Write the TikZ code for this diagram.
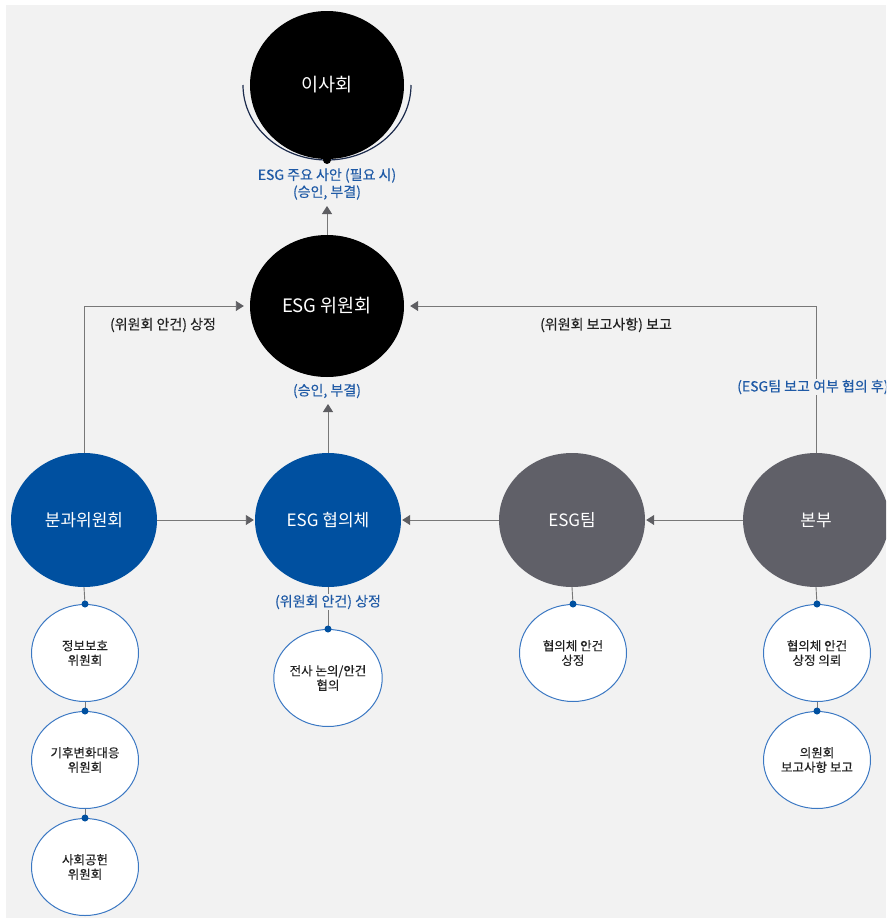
\documentclass[tikz,border=0pt]{standalone}
\usepackage{fontspec}
\setmainfont{Noto Sans CJK KR}
\newfontfamily\krm[FakeBold=0.3]{Noto Sans CJK KR}
\usetikzlibrary{shapes.geometric,arrows.meta}
\definecolor{bg}{HTML}{F2F2F2}
\definecolor{nblue}{HTML}{0050A0}
\definecolor{ngray}{HTML}{606068}
\definecolor{tblue}{HTML}{1F5AA6}
\definecolor{lgray}{HTML}{787878}
\definecolor{tipgray}{HTML}{5E5E62}
\definecolor{cborder}{HTML}{3B78C3}
\definecolor{arcnavy}{HTML}{1C2B4C}
\definecolor{txt}{HTML}{222222}
\begin{document}
\begin{tikzpicture}[x=1pt,y=-1pt,
  bigc/.style={ellipse, inner sep=0pt, minimum width=146pt, minimum height=134pt, text=white, font=\fontsize{17}{19}\selectfont},
  topc/.style={ellipse, fill=black, inner sep=0pt, minimum width=154pt, minimum height=142pt, text=white, font=\fontsize{18.5}{20}\selectfont},
  smallc/.style={ellipse, draw=cborder, line width=1pt, fill=white, minimum width=107pt, minimum height=97pt, inner sep=0pt, align=center, font=\krm\fontsize{12.5}{14.5}\selectfont, text=txt},
  conn/.style={draw=lgray, line width=0.9pt},
  arr/.style={conn, -{Triangle[length=8pt,width=10pt,color=tipgray]}},
  dotb/.style={circle, fill=nblue, inner sep=0pt, minimum size=7pt},
  lbl/.style={font=\krm\fontsize{14}{17}\selectfont, align=center, text=txt},
  blbl/.style={lbl, text=tblue, fill=bg, inner sep=1pt},
]
\clip (0,0) rectangle (886,918);
\fill[white] (0,0) rectangle (886,918);
\fill[bg] (6,5) rectangle (886,918);

% top nodes
\node[topc, minimum height=148pt] (board) at (327,85) {이사회};
\draw[arcnavy, line width=1.2pt] (243,85) arc[start angle=180, end angle=0, x radius=84, y radius=75];
\node[circle, fill=black, inner sep=0pt, minimum size=8pt] (bdot) at (327,160) {};
\node[blbl, fill=none] (lblboard) at (327,184) {ESG 주요 사안 (필요 시)\\(승인, 부결)};

\node[topc] (esgc) at (327,306) {ESG 위원회};
\coordinate (boardin) at (327,206);
\draw[arr] (esgc.north) -- (boardin);

% middle row
\node[bigc, fill=nblue] (bun) at (84,520) {분과위원회};
\node[bigc, fill=nblue] (hyup) at (328,520) {ESG 협의체};
\node[bigc, fill=ngray] (team) at (572,520) {ESG팀};
\node[bigc, fill=ngray] (bonbu) at (816,520) {본부};

\coordinate (hyupout) at (328,404);
\draw[arr] (hyup.north) -- (hyupout);
\node[blbl, fill=none] (lblesgc) at (327,391) {(승인, 부결)};

\draw[arr, shorten >=6pt] (bun.north) |- (esgc.west);
\node[lbl] (lblleft) at (163,325) {(위원회 안건) 상정};
\draw[arr, shorten >=6pt] (bonbu.north) |- (esgc.east);
\node[lbl] (lblright) at (606,325) {(위원회 보고사항) 보고};
\node[blbl, anchor=west] (lblteam) at (736,387) {(ESG팀 보고 여부 협의 후)};

\draw[arr, shorten >=1pt] (bun.east) -- (hyup.west);
\draw[arr, shorten >=1pt] (team.west) -- (hyup.east);
\draw[arr, shorten >=1pt] (bonbu.west) -- (team.east);

% small circles
\node[smallc] (s1) at (85,653) {정보보호\\위원회};
\node[smallc] (s2) at (85,760) {기후변화대응\\위원회};
\node[smallc] (s3) at (85,867) {사회공헌\\위원회};
\node[smallc] (s4) at (328,678) {전사 논의/안건\\협의};
\node[smallc] (s5) at (573,653) {협의체 안건\\상정};
\node[smallc] (s6) at (817,653) {협의체 안건\\상정 의뢰};
\node[smallc] (s7) at (817,760) {의원회\\보고사항 보고};

\draw[conn] (bun.south) -- (s1.north);
\draw[conn] (s1.south) -- (s2.north);
\draw[conn] (s2.south) -- (s3.north);
\draw[conn] (hyup.south) -- (s4.north);
\draw[conn] (team.south) -- (s5.north);
\draw[conn] (bonbu.south) -- (s6.north);
\draw[conn] (s6.south) -- (s7.north);
\node[blbl] (lblhyup) at (328,602) {(위원회 안건) 상정};

\foreach \n in {s1,s2,s3,s4,s5,s6,s7} \node[dotb] (d\n) at (\n.north) {};
\end{tikzpicture}
\end{document}
